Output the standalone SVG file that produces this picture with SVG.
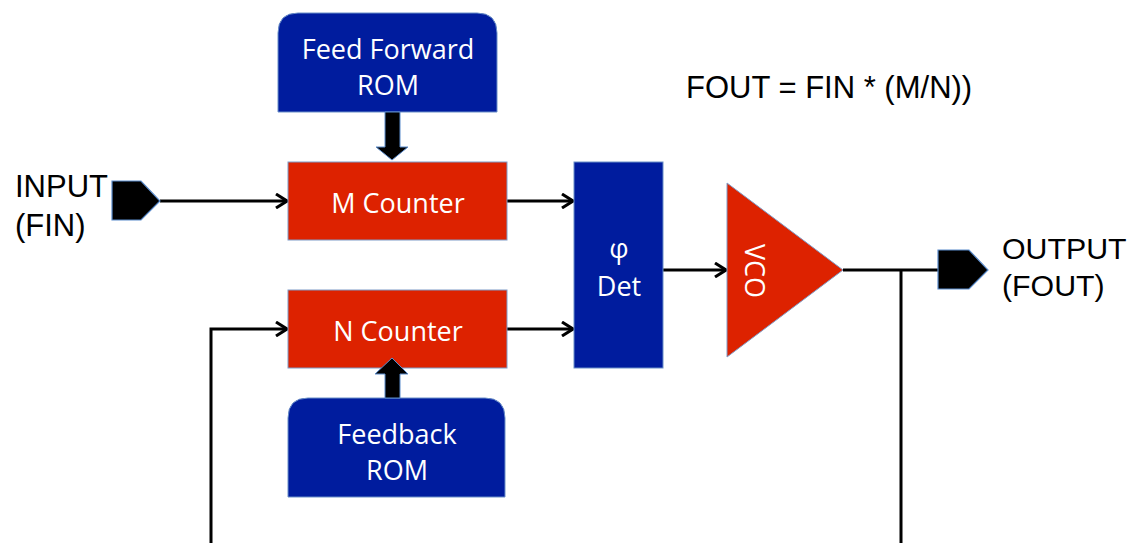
<svg xmlns="http://www.w3.org/2000/svg" width="1130" height="543" viewBox="0 0 1130 543">
<style>
.blue{fill:#001c9e;stroke:#6a8fc8;stroke-width:1}
.red{fill:#dd2200;stroke:#7f9cc8;stroke-width:1}
.port{fill:#000;stroke:#5b8ccc;stroke-width:1.2}
.wt{fill:#fff;font-family:"Open Sans",sans-serif;font-size:27px;text-anchor:middle}
.bt{fill:#000;font-family:"Liberation Sans",Arial,sans-serif;font-size:31px}
.ln{fill:none;stroke:#000;stroke-width:3}
.thick{fill:#000;stroke:#5b8ccc;stroke-width:1}
</style>
<defs>
<marker id="ah" viewBox="0 0 14 16" refX="13" refY="8" markerWidth="14" markerHeight="16" markerUnits="userSpaceOnUse" orient="auto">
<path d="M2,1 L13,8 L2,15" fill="none" stroke="#000" stroke-width="3" stroke-linejoin="miter"/>
</marker>
</defs>

<g id="connectors">
<line class="ln" x1="160" y1="201" x2="287" y2="201" marker-end="url(#ah)"/>
<line class="ln" x1="507" y1="201" x2="573" y2="201" marker-end="url(#ah)"/>
<line class="ln" x1="507" y1="329" x2="573" y2="329" marker-end="url(#ah)"/>
<line class="ln" x1="663" y1="270" x2="726" y2="270" marker-end="url(#ah)"/>
<line class="ln" x1="843" y1="270" x2="939" y2="270"/>
<line class="ln" x1="901" y1="270" x2="901" y2="543"/>
<polyline class="ln" points="211,543 211,329 287,329" marker-end="url(#ah)"/>
</g>

<g id="input">
<polygon class="port" points="112,181 141,181 160,201 141,220 112,220"/>
<text class="bt" x="15" y="197">INPUT</text>
<text class="bt" x="15" y="236">(FIN)</text>
</g>

<g id="output">
<polygon class="port" points="938,250 969,250 988,270 969,289 938,289"/>
<text class="bt" x="1002" y="259" style="font-size:30.3px">OUTPUT</text>
<text class="bt" x="1002" y="296" style="font-size:30.3px">(FOUT)</text>
</g>

<g id="formula">
<text class="bt" x="686" y="98">FOUT = FIN * (M/N))</text>
</g>

<g id="ffrom">
<path class="blue" d="M278,112 V33 Q278,13 298,13 H477 Q497,13 497,33 V112 Z"/>
<text class="wt" x="388" y="59">Feed Forward</text>
<text class="wt" x="388" y="95">ROM</text>
</g>

<g id="mcounter">
<rect class="red" x="288" y="162" width="219" height="78"/>
<text class="wt" x="398" y="213">M Counter</text>
</g>

<g id="ffarrow">
<polygon class="thick" points="385,112 400,112 400,147 408,147 392,160 376,147 385,147"/>
</g>

<g id="ncounter">
<rect class="red" x="288" y="290" width="219" height="78"/>
<text class="wt" x="398" y="341">N Counter</text>
</g>

<g id="fbrom">
<path class="blue" d="M288,497 V418 Q288,398 308,398 H485 Q505,398 505,418 V497 Z"/>
<text class="wt" x="397" y="444">Feedback</text>
<text class="wt" x="397" y="480">ROM</text>
</g>

<g id="fbarrow">
<polygon class="thick" points="385,398 400,398 400,374 408,374 392,358 375,374 385,374"/>
</g>

<g id="phidet">
<rect class="blue" x="574" y="162" width="89" height="206"/>
<text class="wt" x="619" y="258">φ</text>
<text class="wt" x="619" y="296">Det</text>
</g>

<g id="vco">
<polygon class="red" points="727,183 843,270 727,357"/>
<text class="wt" transform="translate(745,271) rotate(90)" x="0" y="0">VCO</text>
</g>
</svg>
